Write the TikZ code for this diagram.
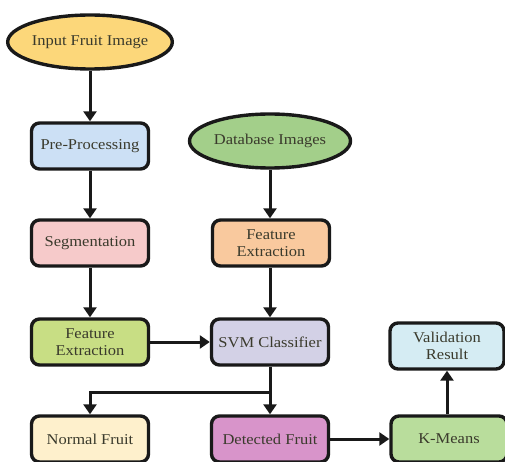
\documentclass[tikz,border=0pt]{standalone}
\usepackage{fontspec}
\setmainfont{Liberation Serif}[FakeStretch=1.1]
\usetikzlibrary{shapes.geometric,arrows.meta}
\definecolor{txt}{HTML}{3A3A2C}
\definecolor{cInput}{HTML}{FCD77A}
\definecolor{cDb}{HTML}{A3CF8A}
\definecolor{cPre}{HTML}{CCE0F5}
\definecolor{cSeg}{HTML}{F6CACA}
\definecolor{cFeR}{HTML}{F9C99E}
\definecolor{cFeL}{HTML}{C8DE84}
\definecolor{cSvm}{HTML}{D3D1E6}
\definecolor{cNorm}{HTML}{FEF0CC}
\definecolor{cDet}{HTML}{D894CA}
\definecolor{cKm}{HTML}{B9DD9C}
\definecolor{cVal}{HTML}{D5ECF3}
\tikzset{
  boxnode/.style={draw=black!90, line width=3.4pt, rounded corners=8pt, minimum width=117pt, minimum height=46pt, align=center, text=txt, font=\fontsize{15}{17.5}\selectfont, inner sep=2pt},
  ellnode/.style={ellipse, draw=black!90, line width=3.4pt, minimum width=161pt, minimum height=54pt, text=txt, font=\fontsize{15}{17.5}\selectfont, inner sep=0pt},
  arr/.style={draw=black!90, line width=3pt, -{Triangle[length=10pt,width=13pt]}}
}
\begin{document}
\begin{tikzpicture}[x=1pt,y=-1pt]
\useasboundingbox (0,0) rectangle (505,462);
\clip (0,0) rectangle (505,462);
\node[ellnode, fill=cInput] (input) at (90,42) {Input Fruit Image};
\node[ellnode, fill=cDb] (db) at (270,141) {Database Images};
\node[boxnode, fill=cPre] (pre) at (90,146) {Pre-Processing};
\node[boxnode, fill=cSeg] (seg) at (90,243) {Segmentation};
\node[boxnode, fill=cFeR] (feR) at (271,243) {Feature\\Extraction};
\node[boxnode, fill=cFeL] (feL) at (90,342) {Feature\\Extraction};
\node[boxnode, fill=cSvm] (svm) at (270,342) {SVM Classifier};
\node[boxnode, fill=cVal, minimum width=114pt] (val) at (447,346) {Validation\\Result};
\node[boxnode, fill=cNorm] (norm) at (90,439) {Normal Fruit};
\node[boxnode, fill=cDet] (det) at (270,439) {Detected Fruit};
\node[boxnode, fill=cKm, minimum width=116pt] (km) at (449,439) {K-Means};
\coordinate (j) at (270,392);
\draw[arr] (input.south) -- (pre.north);
\draw[arr] (pre.south) -- (seg.north);
\draw[arr] (seg.south) -- (feL.north);
\draw[arr] (db.south) -- (feR.north -| db.south);
\draw[arr] (feR.south -| svm.north) -- (svm.north);
\draw[arr] (feL.east) -- (svm.west);
\draw[arr] (svm.south) -- (det.north);
\draw[arr] (j) -| (norm.north);
\draw[arr] (det.east) -- (km.west);
\draw[arr] (km.north -| val.south) -- (val.south);
\end{tikzpicture}
\end{document}
